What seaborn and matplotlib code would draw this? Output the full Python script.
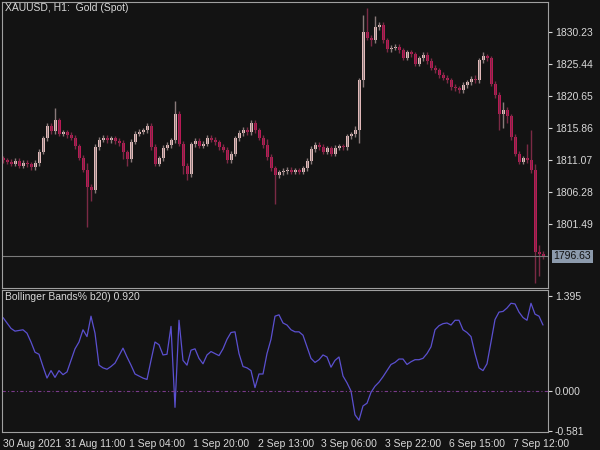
import numpy as np
import pandas as pd
import matplotlib
matplotlib.use("Agg")
import matplotlib.pyplot as plt
import seaborn as sns

# closes per hourly bar (open = previous close)
closes = [1811.0, 1810.8, 1810.5, 1810.9, 1810.2, 1810.6, 1810.4, 1810.0, 1810.6, 1812.3,
          1814.3, 1816.2, 1815.4, 1817.0, 1815.0, 1815.2, 1814.8, 1814.4, 1813.1, 1811.4,
          1809.6, 1807.0, 1806.5, 1813.0, 1814.1, 1814.4, 1814.0, 1814.3, 1813.9, 1813.6,
          1812.2, 1811.2, 1813.8, 1815.0, 1815.3, 1815.5, 1816.2, 1813.0, 1810.5, 1811.3,
          1812.9, 1813.3, 1814.0, 1818.0, 1813.5, 1810.2, 1808.9, 1813.4, 1813.9, 1813.2,
          1813.5, 1814.4, 1814.1, 1813.7, 1813.0, 1812.6, 1811.0, 1812.0, 1814.3, 1815.1,
          1815.6, 1815.2, 1816.6, 1815.5, 1814.4, 1813.3, 1811.5, 1809.8, 1808.8, 1809.2,
          1809.4, 1809.6, 1809.3, 1809.5, 1809.3, 1809.8, 1810.9, 1812.7, 1813.3, 1813.0,
          1812.3, 1812.8, 1812.0, 1812.9, 1813.1, 1813.0, 1814.6, 1814.9, 1815.6, 1823.0,
          1830.2, 1829.4, 1829.0, 1831.0, 1831.3, 1829.0, 1827.7, 1827.9, 1828.0, 1827.5,
          1826.4, 1827.2, 1826.9, 1825.5, 1826.3, 1826.8, 1825.9, 1824.9, 1824.5, 1823.8,
          1823.4, 1823.0, 1822.0, 1821.8, 1821.5, 1822.3, 1822.7, 1823.2, 1823.0, 1826.0,
          1826.6, 1826.3, 1822.5, 1820.8, 1818.0, 1818.6, 1817.6, 1814.5, 1812.0, 1810.8,
          1811.3, 1811.0, 1809.5, 1797.3, 1797.0, 1796.6]
first_open = 1811.3
# wick extents beyond the body (upper, lower)
wick_up = [0.4] * len(closes)
wick_dn = [0.4] * len(closes)
for i, v in {13: 1.8, 21: 1.0, 43: 1.9, 66: 0.9, 88: 0.5, 90: 2.6, 91: 3.6, 93: 1.6,
             118: 0.6, 120: 0.6, 125: 1.2, 131: 2.2, 132: 4.5, 133: 0.9, 134: 1.0}.items():
    wick_up[i] = v
for i, v in {21: 6.0, 22: 1.5, 45: 1.2, 68: 4.3, 46: 0.8, 89: 2.0, 90: 1.0, 92: 0.8,
             124: 2.4, 125: 2.2, 126: 1.0, 133: 4.6, 134: 3.3, 30: 1.0, 31: 1.0}.items():
    wick_dn[i] = v

bbp = [1.08, 1.00, 0.92, 0.88, 0.89, 0.90, 0.85, 0.72, 0.57, 0.54, 0.36, 0.19, 0.30, 0.20,
       0.30, 0.24, 0.28, 0.45, 0.62, 0.72, 0.90, 0.80, 1.10, 0.85, 0.38, 0.34, 0.32, 0.36,
       0.41, 0.52, 0.63, 0.50, 0.38, 0.25, 0.22, 0.19, 0.17, 0.45, 0.72, 0.68, 0.53, 0.54,
       0.95, -0.24, 1.04, 0.45, 0.38, 0.60, 0.62, 0.48, 0.40, 0.53, 0.58, 0.55, 0.52, 0.62,
       0.76, 0.86, 0.87, 0.55, 0.36, 0.34, 0.30, 0.05, 0.25, 0.25, 0.55, 0.76, 1.10, 1.12,
       1.00, 0.97, 0.90, 0.87, 0.87, 0.82, 0.65, 0.48, 0.42, 0.46, 0.53, 0.50, 0.35, 0.45,
       0.50, 0.22, 0.12, 0.00, -0.35, -0.43, -0.22, -0.18, -0.02, 0.07, 0.13, 0.21, 0.30,
       0.39, 0.42, 0.47, 0.47, 0.39, 0.43, 0.46, 0.46, 0.48, 0.55, 0.65, 0.90, 0.96, 0.99,
       1.00, 0.97, 1.04, 1.04, 0.90, 0.86, 0.80, 0.55, 0.34, 0.30, 0.40, 0.72, 1.05, 1.16,
       1.17, 1.22, 1.29, 1.28, 1.16, 1.08, 1.04, 1.29, 1.13, 1.10, 0.97]

price_ticks = [1801.49, 1806.28, 1811.07, 1815.86, 1820.65, 1825.44, 1830.23]
time_ticks = [0, 15.5, 31.5, 47.5, 63.75, 79.5, 95.5, 111.5, 127.5]
time_labels = ["30 Aug 2021", "31 Aug 11:00", "1 Sep 04:00", "1 Sep 20:00", "2 Sep 13:00",
               "3 Sep 06:00", "3 Sep 22:00", "6 Sep 15:00", "7 Sep 12:00"]
last_price = 1796.63

bg = "#131313"
fg = "#d8d8d8"
up_col = "#f7c9c9"
dn_col = "#c8175a"
sns.set_style("dark", {"axes.facecolor": bg, "figure.facecolor": bg})
plt.rcParams["font.family"] = ["Liberation Sans", "DejaVu Sans"]

df = pd.DataFrame({"close": closes})
df["open"] = [first_open] + closes[:-1]
df["top"] = df[["open", "close"]].max(axis=1)
df["bot"] = df[["open", "close"]].min(axis=1)
df["high"] = df["top"] + wick_up
df["low"] = df["bot"] - wick_dn
df["x"] = np.arange(len(df))
up = df["close"] >= df["open"]

fig = plt.figure(figsize=(6, 4.5), dpi=100, facecolor=bg)
ax = fig.add_axes([2 / 600, 1 - 288 / 450, 546 / 600, 286 / 450])
ax2 = fig.add_axes([2 / 600, 1 - 432 / 450, 546 / 600, 142 / 450])

ax.vlines(df["x"][up], df["low"][up], df["high"][up], color="#8a7a7a", lw=1)
ax.vlines(df["x"][~up], df["low"][~up], df["high"][~up], color="#7a2a45", lw=1)
ax.bar(df["x"][up], (df["top"] - df["bot"])[up].clip(lower=0.12), bottom=df["bot"][up],
       width=0.75, color=up_col, edgecolor="none")
ax.bar(df["x"][~up], (df["top"] - df["bot"])[~up].clip(lower=0.12), bottom=df["bot"][~up],
       width=0.75, color=dn_col, edgecolor="none")
ax.axhline(last_price, color="#7a7a7a", lw=0.8)
ax.set_xlim(-0.25, len(df) + 0.25)
ax.set_ylim(1791.9, 1834.72)
ax.yaxis.tick_right()
ax.set_yticks(price_ticks)
ax.set_yticklabels([f"{p:.2f}" for p in price_ticks])
ax.set_xticks([])
ax.text(1.01, last_price, f"{last_price:.2f}", transform=ax.get_yaxis_transform(),
        va="center", ha="left", fontsize=7.5, color="#111111",
        bbox=dict(boxstyle="square,pad=0.15", fc="#8c9aac", ec="none"))
ax.text(0.005, 0.995, "XAUUSD, H1:  Gold (Spot)", transform=ax.transAxes, va="top",
        ha="left", fontsize=7.5, color=fg)

bdf = pd.DataFrame({"x": np.arange(len(bbp)), "bbp": bbp})
sns.lineplot(data=bdf, x="x", y="bbp", ax=ax2, color="#5b50d0", lw=0.9)
ax2.axhline(0, color="#7a3a8a", lw=0.8, ls=(0, (3, 2, 1, 2)))
ax2.set_xlim(-0.25, len(df) + 0.25)
ax2.set_ylim(-0.603, 1.485)
ax2.yaxis.tick_right()
ax2.set_yticks([1.395, 0.0, -0.581])
ax2.set_yticklabels(["1.395", "0.000", "-0.581"])
ax2.set_xticks(time_ticks)
ax2.set_xticklabels(time_labels, ha="left")
ax2.set_xlabel("")
ax2.set_ylabel("")
ax2.text(0.005, 0.985, "Bollinger Bands% b20) 0.920", transform=ax2.transAxes, va="top",
         ha="left", fontsize=7.5, color=fg)

for a in (ax, ax2):
    a.grid(False)
    a.tick_params(colors=fg, labelsize=7.5, length=3, width=0.8, pad=2)
    for s in a.spines.values():
        s.set_color("#a0a0a0")
        s.set_linewidth(0.8)
        s.set_visible(True)

fig.savefig("out.png", dpi=100, facecolor=bg)
